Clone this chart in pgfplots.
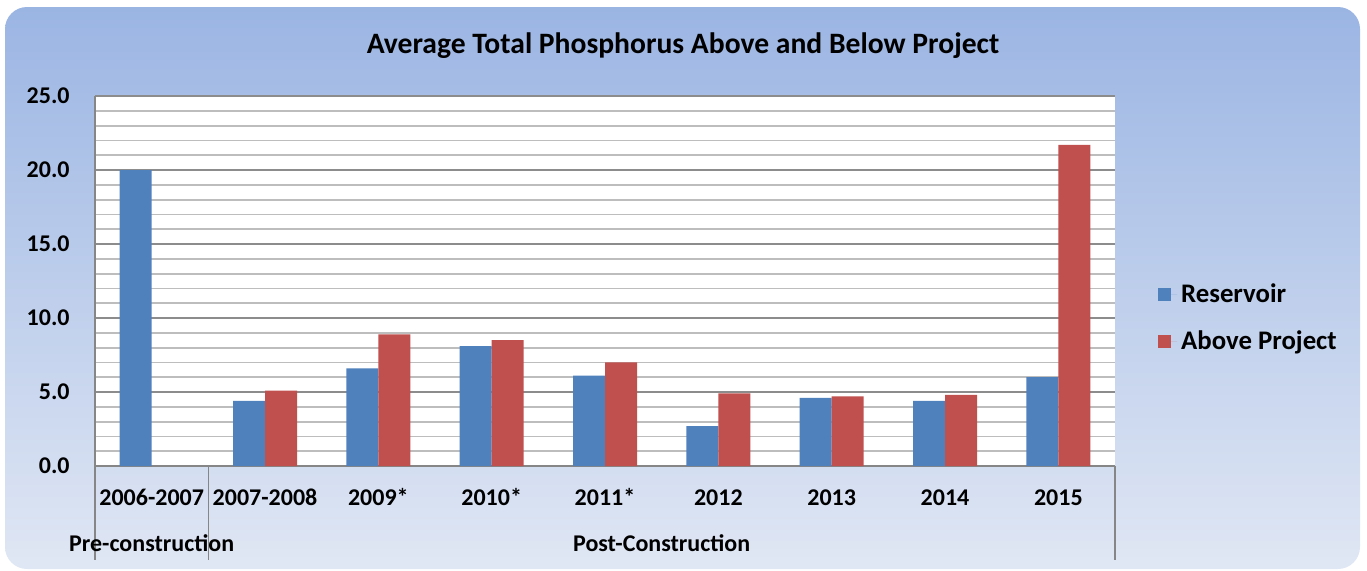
\documentclass[border=0pt]{standalone}
\usepackage{fontspec}
\setmainfont{Carlito}
\usepackage{pgfplots}
\pgfplotsset{compat=1.18}

\definecolor{bgtop}{HTML}{9BB5E3}
\definecolor{bgbot}{HTML}{E0E7F4}
\definecolor{resblue}{HTML}{4F81BD}
\definecolor{abvred}{HTML}{C0504D}
\definecolor{axgray}{HTML}{868686}
\definecolor{majgrid}{HTML}{8C8C8C}
\definecolor{mingrid}{HTML}{BDBDBD}

\begin{document}
\begin{tikzpicture}
% page and chart panel (1px = 0.5pt)
\useasboundingbox (0,0) rectangle (683.5pt,285pt);
\shade[top color=bgtop, bottom color=bgbot, rounded corners=11pt]
  (2.5pt,0.5pt) rectangle (680pt,281.5pt);

\node[font=\fontsize{14.8}{17}\selectfont\bfseries] at (341.5pt,262pt)
  {Average Total Phosphorus Above and Below Project};

\begin{axis}[
    at={(47.5pt,52pt)}, anchor=south west,
    scale only axis, width=510pt, height=185pt,
    xmin=-0.5, xmax=8.5, ymin=0, ymax=25,
    ybar=0pt, bar width=16pt,
    axis lines*=left,
    axis line style={draw=axgray, line width=1pt},
    axis background/.style={fill=white},
    clip=false,
    ytick={0,5,...,25}, minor y tick num=4,
    ymajorgrids, yminorgrids,
    major grid style={draw=majgrid, line width=0.9pt},
    minor grid style={draw=mingrid, line width=0.9pt},
    major tick length=0pt, minor tick length=0pt,
    xtick={0,...,8},
    xticklabels={2006-2007,2007-2008,2009*,2010*,2011*,2012,2013,2014,2015},
    /pgf/number format/assume math mode=true,
    yticklabel={\pgfmathprintnumber[fixed,fixed zerofill,precision=1]{\tick}},
    ticklabel style={font=\fontsize{12}{14}\selectfont\bfseries},
    yticklabel style={anchor=east, inner sep=0pt, xshift=-12.5pt},
    xticklabel style={anchor=base, inner sep=0pt, yshift=-19.5pt},
    legend style={draw=none, fill=none, at={(1.036,0.4)}, anchor=west,
      font=\fontsize{13.4}{16}\selectfont\bfseries, row sep=9pt},
    legend cell align=left,
    legend image code/.code={\fill[#1] (0pt,-3.25pt) rectangle (6.5pt,3.25pt);
      \path (0pt,0pt) -- (9.5pt,0pt);},
]
\addplot[fill=resblue, draw=none] coordinates {
  (0,20.0) (1,4.4) (2,6.6) (3,8.1) (4,6.1) (5,2.7) (6,4.6) (7,4.4) (8,6.0)
};
\addplot[fill=abvred, draw=none] coordinates {
  (1,5.1) (2,8.9) (3,8.5) (4,7.0) (5,4.9) (6,4.7) (7,4.8) (8,21.7)
};
\legend{Reservoir, Above Project}

% category group separators and group labels
\draw[axgray, line width=0.8pt] (axis cs:-0.5,0) -- ([yshift=-47pt]axis cs:-0.5,0);
\draw[axgray, line width=0.8pt] (axis cs:0.5,0) -- ([yshift=-47pt]axis cs:0.5,0);
\draw[axgray, line width=0.8pt] (axis cs:8.5,0) -- ([yshift=-47pt]axis cs:8.5,0);
\node[anchor=base, inner sep=0pt, font=\fontsize{12}{14}\selectfont\bfseries]
  at ([yshift=-42.5pt]axis cs:0,0) {Pre-construction};
\node[anchor=base, inner sep=0pt, font=\fontsize{12}{14}\selectfont\bfseries]
  at ([yshift=-42.5pt]axis cs:4.5,0) {Post-Construction};
\end{axis}
\end{tikzpicture}
\end{document}
